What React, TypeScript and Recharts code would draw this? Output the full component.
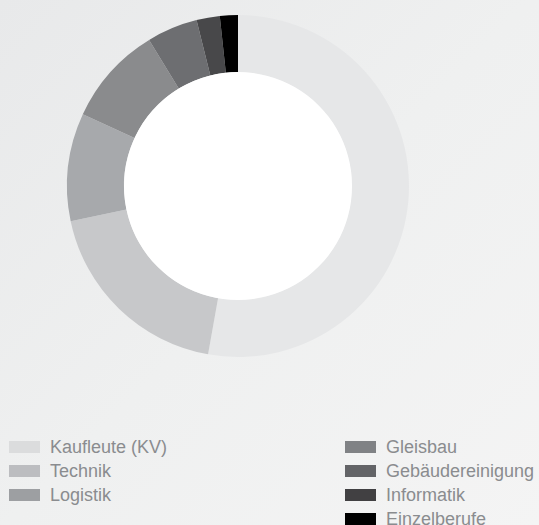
import { PieChart, Pie, Cell } from 'recharts';

const categories = ['Kaufleute (KV)', 'Technik', 'Logistik', 'Gleisbau', 'Gebäudereinigung', 'Informatik', 'Einzelberufe'];
const shares = [52.8, 18.9, 10.2, 9.4, 4.8, 2.2, 1.7];
const ringColors = ['#e6e7e8', '#c7c8ca', '#a7a9ac', '#8a8b8d', '#6d6e71', '#48484a', '#000000'];
const swatchColors = ['#dbdcdd', '#bcbdc0', '#9d9fa2', '#808285', '#636467', '#414042', '#000000'];

// left column holds the first 3, right column the rest
const leftCount = 3;

export default function App() {
    const data = categories.map((name, i) => ({ name, value: shares[i] }));
    const hole = [{ name: 'hole', value: 1 }];

    const legendRow = (i: number, row: number, left: number) => (
        <div
            key={categories[i]}
            style={{ position: 'absolute', left, top: 435 + row * 24, height: 24, display: 'flex', alignItems: 'flex-start' }}
        >
            <div style={{ width: 31, height: 12, marginTop: 6, background: swatchColors[i] }} />
            <span style={{ marginLeft: 10, fontSize: 18, lineHeight: '24px', color: '#8a8c8f', whiteSpace: 'nowrap' }}>{categories[i]}</span>
        </div>
    );

    return (
        <div
            style={{
                position: 'absolute', left: 0, top: 0, width: 539, height: 525, overflow: 'hidden',
                background: 'linear-gradient(135deg, #e8e9ea 0%, #eff0f0 50%, #f4f4f4 100%)',
                fontFamily: '"Liberation Sans", Arial, sans-serif',
            }}
        >
            <PieChart
                width={539}
                height={400}
                margin={{ top: 0, right: 0, bottom: 0, left: 0 }}
                style={{ position: 'absolute', left: 0, top: 0 }}
            >
                <Pie
                    data={data}
                    dataKey="value"
                    cx={238}
                    cy={186}
                    innerRadius={114}
                    outerRadius={171}
                    startAngle={90}
                    endAngle={-270}
                    stroke="none"
                    isAnimationActive={false}
                >
                    {data.map((d, i) => (
                        <Cell key={d.name} fill={ringColors[i]} />
                    ))}
                </Pie>
                <Pie
                    data={hole}
                    dataKey="value"
                    cx={238}
                    cy={186}
                    outerRadius={114}
                    fill="#ffffff"
                    stroke="none"
                    isAnimationActive={false}
                />
            </PieChart>
            {categories.map((_, i) => (i < leftCount ? legendRow(i, i, 9) : legendRow(i, i - leftCount, 345)))}
        </div>
    );
}
